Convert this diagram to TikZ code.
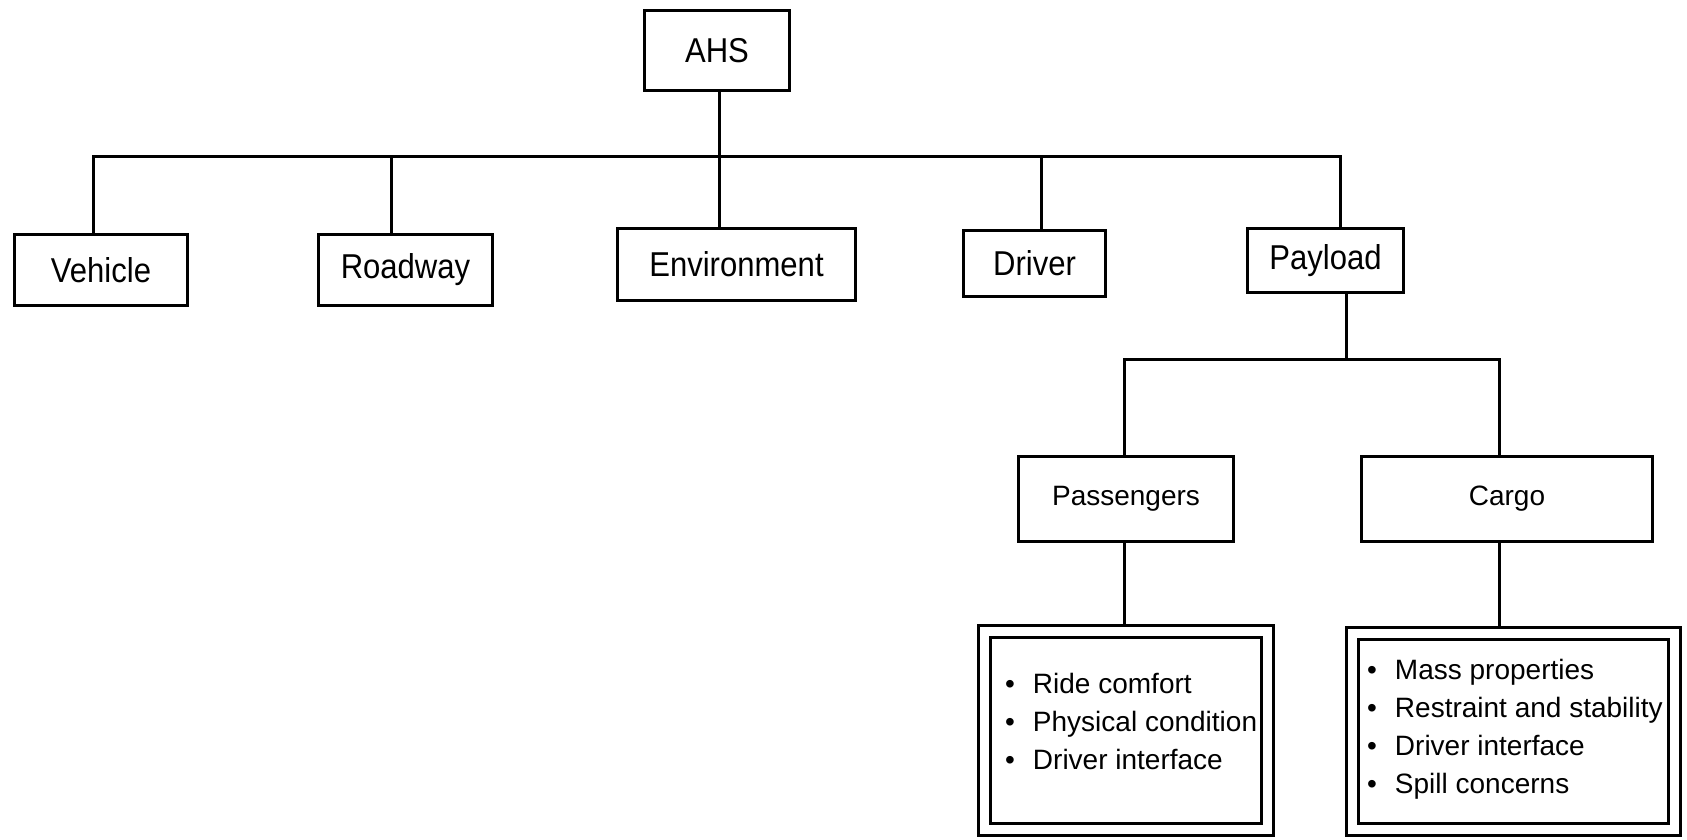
\documentclass[tikz,border=0pt]{standalone}
\usepackage{fontspec}
\setmainfont{Liberation Sans}
\newfontfamily\condfont{Liberation Sans}[FakeStretch=0.9]
\begin{document}
\begin{tikzpicture}[x=1pt,y=-1pt,
  topbox/.style={draw, line width=3pt, inner sep=0pt, font=\condfont\fontsize{34.5}{40}\selectfont},
  subbox/.style={draw, line width=3pt, inner sep=0pt, font=\fontsize{28}{34}\selectfont},
  listbox/.style={draw, line width=3pt, double, double distance=9pt, inner sep=0pt, outer sep=7.5pt},
  listtext/.style={inner sep=0pt, anchor=base west, font=\fontsize{28}{38}\selectfont},
  link/.style={line width=3pt, line join=miter}]
\useasboundingbox (0,0) rectangle (1687,839);
\fill[white] (0,0) rectangle (1687,839);

% top level
\node[topbox, minimum width=145pt, minimum height=80pt] (ahs) at (717,50.5) {AHS};
\node[topbox, minimum width=173pt, minimum height=71pt] (vehicle) at (101,270) {Vehicle};
\node[topbox, minimum width=174pt, minimum height=71pt] (roadway) at (405.5,270) {Roadway};
\node[topbox, minimum width=238pt, minimum height=72pt] (env) at (736.5,264.5) {Environment};
\node[topbox, minimum width=142pt, minimum height=66pt] (driver) at (1034.5,263.5) {Driver};
\node[topbox, minimum width=156pt, minimum height=64pt] (payload) at (1325.5,260.5) {Payload};

% payload level
\node[subbox, minimum width=215pt, minimum height=85pt] (pass) at (1126,499) {Passengers};
\node[subbox, minimum width=291pt, minimum height=85pt] (cargo) at (1507,499) {Cargo};

% lists
\node[listbox, minimum width=283pt, minimum height=198pt] (plist) at (1126,730.5) {};
\node[listbox, minimum width=322pt, minimum height=196pt] (clist) at (1513.5,731.5) {};
\node[listtext] (ptext) at (1005,693) {\begin{tabular}[t]{@{}l@{\hspace{18pt}}l@{}}
\textbullet & Ride comfort\\
\textbullet & Physical condition\\
\textbullet & Driver interface
\end{tabular}};
\node[listtext] (ctext) at (1367,679) {\begin{tabular}[t]{@{}l@{\hspace{18pt}}l@{}}
\textbullet & Mass properties\\
\textbullet & Restraint and stability\\
\textbullet & Driver interface\\
\textbullet & Spill concerns
\end{tabular}};

% bus coordinates
\coordinate (b1) at (93,156);
\coordinate (b2) at (391,156);
\coordinate (b3) at (719,156);
\coordinate (b4) at (1041,156);
\coordinate (b5) at (1340,156);
\coordinate (p0) at (1346,359);
\coordinate (c1) at (1124,359);
\coordinate (c2) at (1499,359);

% connectors
\draw[link] (b1 |- vehicle.north) -- (b1) -- (b5) -- (b5 |- payload.north);
\draw[link] (b2) -- (b2 |- roadway.north);
\draw[link] (b3 |- ahs.south) -- (b3 |- env.north);
\draw[link] (b4) -- (b4 |- driver.north);
\draw[link] (p0 |- payload.south) -- (p0);
\draw[link] (c1 |- pass.north) -- (c1) -- (c2) -- (c2 |- cargo.north);
\draw[link] (c1 |- pass.south) -- (c1 |- plist.north);
\draw[link] (c2 |- cargo.south) -- (c2 |- clist.north);
\end{tikzpicture}
\end{document}
